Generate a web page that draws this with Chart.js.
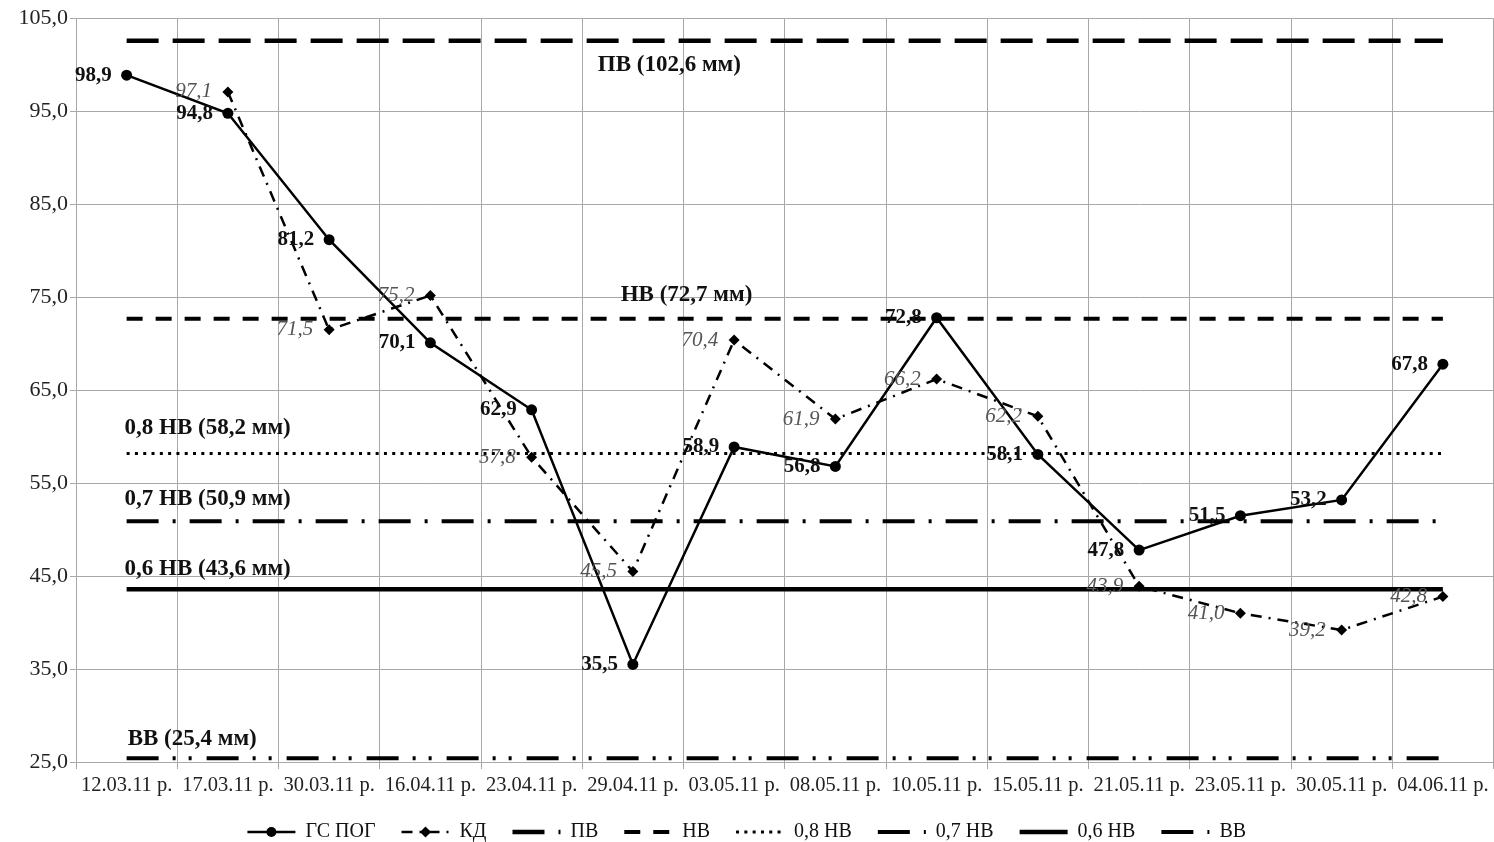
<!DOCTYPE html>
<html lang="uk">
<head>
<meta charset="utf-8">
<title>ГС ПОГ і КД</title>
<script src="https://cdn.jsdelivr.net/npm/chart.js@4.4.1/dist/chart.umd.min.js"></script>
<style>
  html, body { margin: 0; padding: 0; background: #fff; overflow: hidden; }
  #wrap { width: 1494px; height: 842px; position: relative; }
</style>
</head>
<body>
<div id="wrap"><canvas id="chart"></canvas></div>
<script>
// --- дані ---
const dates = ['12.03.11 р.', '17.03.11 р.', '30.03.11 р.', '16.04.11 р.', '23.04.11 р.',
  '29.04.11 р.', '03.05.11 р.', '08.05.11 р.', '10.05.11 р.', '15.05.11 р.',
  '21.05.11 р.', '23.05.11 р.', '30.05.11 р.', '04.06.11 р.'];
const gsPog = [98.9, 94.8, 81.2, 70.1, 62.9, 35.5, 58.9, 56.8, 72.8, 58.1, 47.8, 51.5, 53.2, 67.8];
const kd = [null, 97.1, 71.5, 75.2, 57.8, 45.5, 70.4, 61.9, 66.2, 62.2, 43.9, 41.0, 39.2, 42.8];
const levelNames = ['ПВ', 'НВ', '0,8 НВ', '0,7 НВ', '0,6 НВ', 'ВВ'];
const levelValues = [102.6, 72.7, 58.2, 50.9, 43.6, 25.4];
const levelCaptions = ['ПВ (102,6 мм)', 'НВ (72,7 мм)', '0,8 НВ (58,2 мм)',
  '0,7 НВ (50,9 мм)', '0,6 НВ (43,6 мм)', 'ВВ (25,4 мм)'];
const yTicks = [25, 35, 45, 55, 65, 75, 85, 95, 105];

// --- стилі ---
const FONT = "'Liberation Serif', 'Times New Roman', serif";
const levelStyles = [
  { dash: [32, 14], width: 4.5 },
  { dash: [16, 13], width: 4 },
  { dash: [3, 5.3], width: 3 },
  { dash: [32, 14, 3, 14], width: 4 },
  { dash: [], width: 4.5 },
  { dash: [32, 14, 3, 13, 3, 15], width: 4 }
];
// at — позиція по осі категорій, dy — зсув від лінії, px
const captionPlace = [
  { at: 5.36, dy: 24, align: 'center' },
  { at: 5.53, dy: -24, align: 'center' },
  { at: -0.02, dy: -25, align: 'left' },
  { at: -0.02, dy: -22, align: 'left' },
  { at: -0.02, dy: -20, align: 'left' },
  { at: 0.01, dy: -19, align: 'left' }
];
const labelStyles = [
  { font: 'bold 21px ' + FONT, color: '#111', dx: -15 },
  { font: 'italic 21px ' + FONT, color: '#555', dx: -16 }
];

const fmt = function (v) { return v.toFixed(1).replace('.', ','); };

const datasets = [
  {
    label: 'ГС ПОГ',
    data: gsPog,
    borderColor: '#000',
    backgroundColor: '#000',
    borderWidth: 2.5,
    pointStyle: 'circle',
    pointRadius: 5.5,
    pointBorderWidth: 0,
    tension: 0
  },
  {
    label: 'КД',
    data: kd,
    borderColor: '#000',
    backgroundColor: '#000',
    borderWidth: 2.5,
    borderDash: [11, 7, 2, 7],
    pointStyle: 'rectRot',
    pointRadius: 5.5,
    pointBorderWidth: 0,
    spanGaps: true,
    tension: 0
  }
].concat(levelNames.map(function (name, k) {
  return {
    label: name,
    data: dates.map(function () { return levelValues[k]; }),
    borderColor: '#000',
    borderWidth: levelStyles[k].width,
    borderDash: levelStyles[k].dash,
    borderCapStyle: 'butt',
    pointRadius: 0,
    pointHoverRadius: 0,
    fill: false
  };
}));

const pointLabels = {
  id: 'pointLabels',
  afterDatasetsDraw: function (chart) {
    const ctx = chart.ctx;
    labelStyles.forEach(function (st, di) {
      const meta = chart.getDatasetMeta(di);
      const values = chart.data.datasets[di].data;
      ctx.save();
      ctx.font = st.font;
      ctx.fillStyle = st.color;
      ctx.textAlign = 'right';
      ctx.textBaseline = 'middle';
      meta.data.forEach(function (pt, i) {
        if (values[i] == null) return;
        ctx.fillText(fmt(values[i]), pt.x + st.dx, pt.y);
      });
      ctx.restore();
    });
  }
};

const levelCaptionsPlugin = {
  id: 'levelCaptions',
  afterDatasetsDraw: function (chart) {
    const ctx = chart.ctx;
    const xs = chart.scales.x, ys = chart.scales.y;
    ctx.save();
    ctx.font = 'bold 23px ' + FONT;
    ctx.fillStyle = '#111';
    ctx.textBaseline = 'middle';
    levelCaptions.forEach(function (txt, k) {
      const p = captionPlace[k];
      ctx.textAlign = p.align;
      ctx.fillText(txt, xs.getPixelForValue(p.at), ys.getPixelForValue(levelValues[k]) + p.dy);
    });
    ctx.restore();
  }
};

const legendMarkers = {
  id: 'legendMarkers',
  afterDraw: function (chart) {
    const lg = chart.legend;
    if (!lg || !lg.legendHitBoxes) return;
    const ctx = chart.ctx;
    const bw = lg.options.labels.pointStyleWidth;
    ctx.save();
    ctx.fillStyle = '#000';
    [0, 1].forEach(function (i) {
      const hb = lg.legendHitBoxes[i];
      const cx = hb.left + bw / 2;
      const cy = hb.top + hb.height / 2;
      ctx.beginPath();
      if (i === 0) {
        ctx.arc(cx, cy, 5, 0, Math.PI * 2);
      } else {
        ctx.moveTo(cx, cy - 5.5); ctx.lineTo(cx + 5.5, cy);
        ctx.lineTo(cx, cy + 5.5); ctx.lineTo(cx - 5.5, cy);
        ctx.closePath();
      }
      ctx.fill();
    });
    ctx.restore();
  }
};

new Chart(document.getElementById('chart'), {
  type: 'line',
  data: { labels: dates, datasets: datasets },
  plugins: [pointLabels, levelCaptionsPlugin, legendMarkers],
  options: {
    responsive: true,
    maintainAspectRatio: false,
    animation: false,
    layout: { autoPadding: false, padding: { top: 18.5, right: 0.5, left: 0, bottom: 0 } },
    plugins: {
      tooltip: { enabled: false },
      legend: {
        position: 'bottom',
        maxHeight: 46,
        labels: {
          color: '#111',
          font: { size: 20, family: FONT },
          usePointStyle: true,
          pointStyleWidth: 48,
          padding: 26,
          generateLabels: function (chart) {
            return chart.data.datasets.map(function (ds, i) {
              return {
                text: ds.label,
                datasetIndex: i,
                pointStyle: 'line',
                lineDash: ds.borderDash || [],
                lineWidth: ds.borderWidth,
                lineCap: 'butt',
                strokeStyle: '#000',
                fillStyle: '#000',
                fontColor: '#111',
                hidden: false
              };
            });
          }
        }
      }
    },
    scales: {
      x: {
        offset: true,
        grid: { offset: true, color: '#a8a8a8', lineWidth: 1, tickLength: 7 },
        border: { color: '#a8a8a8' },
        ticks: {
          color: '#222',
          font: { size: 20.5, family: FONT },
          maxRotation: 0,
          autoSkip: false,
          padding: 4
        },
        afterFit: function (scale) {
          scale.height = 34;
          scale.paddingLeft = 0;
          scale.paddingRight = 0;
        }
      },
      y: {
        min: 25,
        max: 105,
        grid: { color: '#a8a8a8', lineWidth: 1, tickLength: 6 },
        border: { color: '#a8a8a8' },
        ticks: {
          color: '#222',
          font: { size: 22, family: FONT },
          padding: 2,
          callback: function (v) { return fmt(v); }
        },
        afterBuildTicks: function (scale) {
          scale.ticks = yTicks.map(function (v) { return { value: v }; });
        },
        afterFit: function (scale) { scale.width = 76; }
      }
    }
  }
});
</script>
</body>
</html>
